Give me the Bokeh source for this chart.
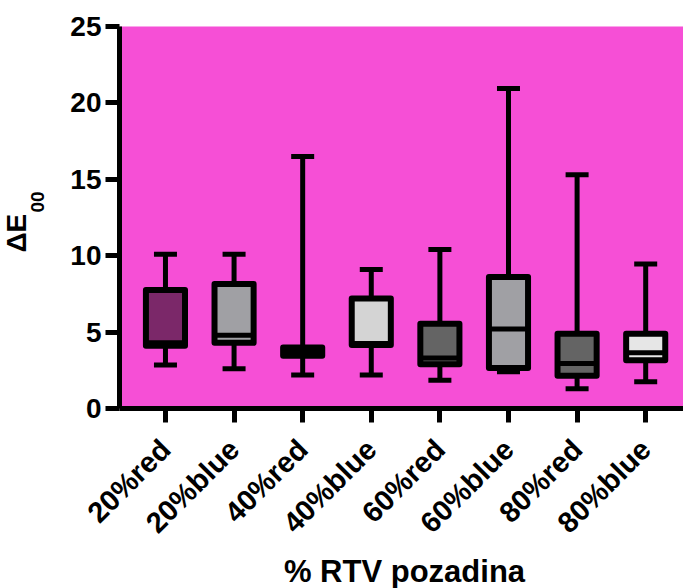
from math import pi
from bokeh.plotting import figure
from bokeh.models import FixedTicker, Range1d, ColumnDataSource, Label
from bokeh.embed import file_html
from bokeh.resources import INLINE

categories = ["20%red", "20%blue", "40%red", "40%blue", "60%red", "60%blue", "80%red", "80%blue"]
whisker_low = [2.85, 2.6, 2.2, 2.2, 1.85, 2.4, 1.3, 1.75]
q1 = [4.1, 4.3, 3.45, 4.15, 2.9, 2.65, 2.15, 3.15]
median = [4.3, 4.8, 3.7, 4.25, 3.3, 5.2, 2.95, 3.65]
q3 = [7.75, 8.15, 4.0, 7.2, 5.55, 8.6, 4.9, 4.9]
whisker_high = [10.1, 10.1, 16.5, 9.1, 10.4, 20.95, 15.3, 9.45]
box_colors = ["#7B2869", "#A0A0A4", "#8C8C8C", "#D4D4D4", "#646464", "#A0A0A4", "#646464", "#E6E6E6"]
y_ticks = [0, 5, 10, 15, 20, 25]

xpos = list(range(len(categories)))
src = ColumnDataSource(dict(x=xpos, lo=whisker_low, q1=q1, med=median, q3=q3,
                            hi=whisker_high, color=box_colors))

FONT = "Liberation Sans"

p = figure(width=683, height=588, output_backend="svg", toolbar_location=None,
           x_range=Range1d(-0.67, 7.551), y_range=Range1d(0, 25),
           min_border_left=119, min_border_right=0, min_border_top=26,
           min_border_bottom=178)

p.background_fill_color = "#F64FD6"
p.border_fill_color = "white"
p.outline_line_color = None
p.grid.visible = False

# whiskers
p.segment(x0="x", y0="q3", x1="x", y1="hi", source=src, line_color="black", line_width=5)
p.segment(x0="x", y0="lo", x1="x", y1="q1", source=src, line_color="black", line_width=5)
# caps
p.rect(x="x", y="hi", width=23, height=5, width_units="screen", height_units="screen",
       source=src, fill_color="black", line_color=None)
p.rect(x="x", y="lo", width=23, height=5, width_units="screen", height_units="screen",
       source=src, fill_color="black", line_color=None)
# boxes
p.vbar(x="x", bottom="q1", top="q3", width=0.57, source=src, fill_color="color",
       line_color="black", line_width=6, line_join="round")
# medians
p.rect(x="x", y="med", width=0.57, height=5, height_units="screen", source=src,
       fill_color="black", line_color=None)

p.xaxis.ticker = FixedTicker(ticks=xpos)
p.xaxis.major_label_overrides = {i: c for i, c in zip(xpos, categories)}
p.xaxis.major_label_orientation = pi / 4
p.yaxis.ticker = FixedTicker(ticks=y_ticks)

for ax in (p.xaxis[0], p.yaxis[0]):
    ax.axis_line_width = 5
    ax.axis_line_color = "black"
    ax.major_tick_line_width = 5
    ax.major_tick_line_color = "black"
    ax.major_tick_out = 14
    ax.major_tick_in = 0
    ax.minor_tick_line_color = None
    ax.major_label_text_font = FONT
    ax.major_label_text_font_style = "bold"
    ax.major_label_text_color = "black"

p.yaxis.major_label_text_font_size = "28px"
p.xaxis.major_label_text_font_size = "29px"
p.yaxis.major_label_standoff = 4
p.xaxis.major_label_standoff = 22

lab = dict(x_units="canvas", y_units="canvas", text_font=FONT, text_font_style="bold",
           text_color="black", text_baseline="middle")

# y-axis title with subscript
p.add_layout(Label(x=16, y=252, text="ΔE", angle=pi / 2, text_font_size="28px",
                   text_align="left", **lab), "left")
p.add_layout(Label(x=37, y=212, text="00", angle=pi / 2, text_font_size="19px",
                   text_align="left", **lab), "left")
# x-axis title
p.add_layout(Label(x=404, y=571, text="% RTV pozadina", text_font_size="31px",
                   text_align="center", **lab), "below")

open("out.html", "w").write(file_html(p, INLINE))
